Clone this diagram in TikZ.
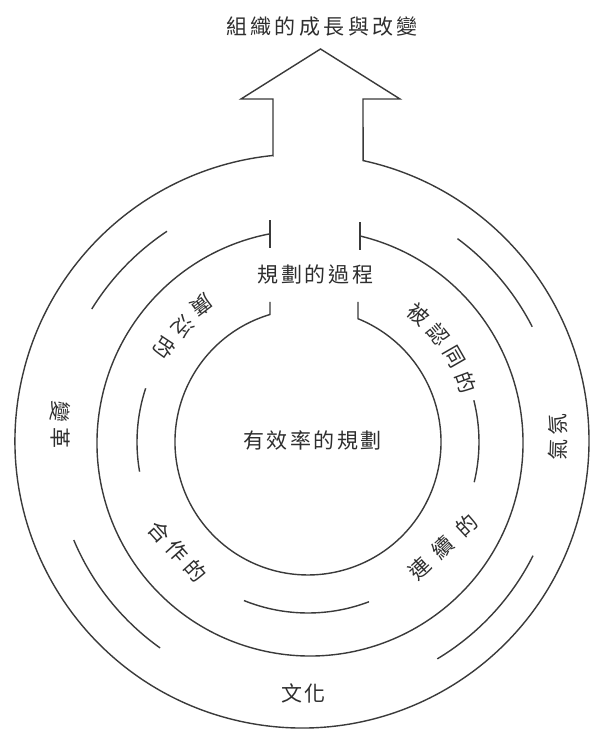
\documentclass[tikz,border=0pt]{standalone}
\usepackage{fontspec}
\newfontfamily\cjk{Noto Sans CJK TC}
\newfontfamily\cjksp[LetterSpace=12]{Noto Sans CJK TC}
\newfontfamily\cjkti[LetterSpace=16]{Noto Sans CJK TC}
\newfontfamily\cjkhz[LetterSpace=25]{Noto Sans CJK TC}
\newfontfamily\cjklx[LetterSpace=52]{Noto Sans CJK TC}
\definecolor{linegray}{HTML}{3A3A3A}
\definecolor{txtgray}{HTML}{2E2E2E}
\begin{document}
\begin{tikzpicture}[x=1pt,y=1pt,
  ring/.style={draw=linegray, line width=1.4pt, line join=miter},
  lbl/.style={text=txtgray, font=\cjksp\fontsize{21}{21}\selectfont, inner sep=0pt},
  ch/.style={text=txtgray, font=\cjk\fontsize{21}{21}\selectfont, inner sep=0pt}]
\useasboundingbox (0,0) rectangle (599,731);
\fill[white] (0,0) rectangle (599,731);
% centres
\coordinate (oc) at (302,290);
\coordinate (mc) at (310,288);
\coordinate (ic) at (308,289);
\coordinate (sc) at (307,289);
% outer circle with arrow
\draw[ring] (273,575.5) -- (273,632) -- (241,632) -- (320.5,682) -- (400,632) -- (363,632) -- (363.1,570.4)
  arc[start angle=77.7, end angle=-264.2, radius=287] -- cycle;
% middle circle with ticks
\draw[ring] ([shift={(76.4:213)}]mc) arc[start angle=76.4, end angle=-259.2, radius=213];
\draw[ring] (270.1,483) -- (270.1,511);
\draw[ring] (360.1,481) -- (360.1,509);
% inner circle
\draw[ring] (270,429) -- (270,416.5) arc[start angle=106.6, end angle=427.9, radius=133] -- (358,429);
% short arcs between outer and middle
\draw[ring] ([shift={(123.6:253)}]sc) arc[start angle=123.6, end angle=148.3, radius=253];
\draw[ring] ([shift={(27.1:253)}]sc) arc[start angle=27.1, end angle=53.5, radius=253];
\draw[ring] ([shift={(202.8:253)}]sc) arc[start angle=202.8, end angle=234.5, radius=253];
\draw[ring] ([shift={(301:253)}]sc) arc[start angle=301, end angle=333.3, radius=253];
% short arcs between middle and inner
\draw[ring] ([shift={(161.7:171)}]ic) arc[start angle=161.7, end angle=190, radius=171];
\draw[ring] ([shift={(-13.6:171)}]ic) arc[start angle=-13.6, end angle=14.1, radius=171];
\draw[ring] ([shift={(248:171)}]ic) arc[start angle=248, end angle=290.9, radius=171];
% labels
\node[lbl, font=\cjkti\fontsize{21}{21}\selectfont] (title) at (322,704.5) {組織的成長與改變};
\node[lbl] (proc) at (315.5,457) {規劃的過程};
\node[lbl] (eff) at (312.5,290) {有效率的規劃};
\node[lbl] (cult) at (303.5,38) {文化};
% 廣泛的
\node[ch, rotate=217.3] (g1) at (202,426) {廣};
\node[ch, rotate=226.9] (g2) at (183.5,404.5) {泛};
\node[ch, rotate=236.5] (g3) at (165,383) {的};
% 被認同的
\node[ch, rotate=-41.2] (b1) at (419,416.9) {被};
\node[ch, rotate=-50.7] (b2) at (438.6,396.6) {認};
\node[ch, rotate=-60.1] (b3) at (454.4,373.7) {同};
\node[ch, rotate=-69.6] (b4) at (466.3,348.3) {的};
% 合作的
\node[ch, font=\cjkhz\fontsize{21}{21}\selectfont, rotate=-48] (h) at (177.5,180) {合作的};
% 連續的
\node[ch, font=\cjklx\fontsize{21}{21}\selectfont, rotate=43] (l) at (443,184) {連續的};
% 變革
\node[ch, rotate=264] (v1) at (60,319) {變};
\node[ch, rotate=270] (v2) at (60,293) {革};
% 氣氛
\node[ch, rotate=88] (q1) at (558,281) {氣};
\node[ch, rotate=94] (q2) at (558,306) {氛};
\end{tikzpicture}
\end{document}
